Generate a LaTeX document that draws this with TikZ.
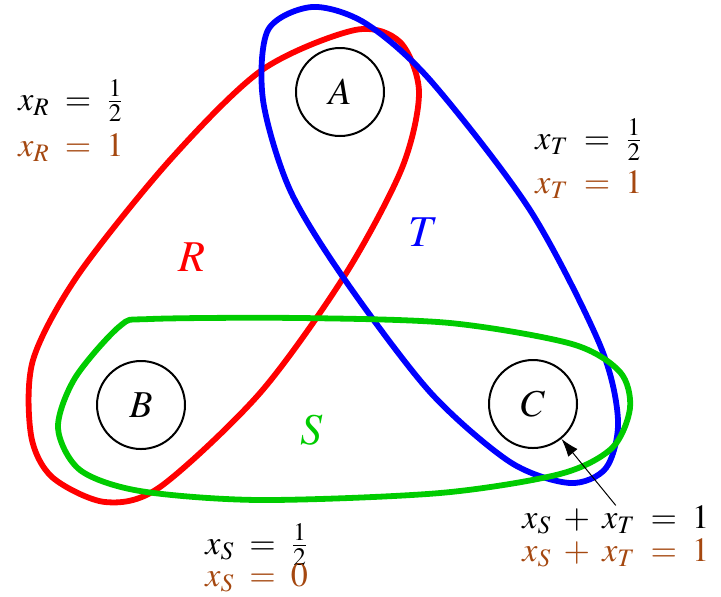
\documentclass[tikz,border=0pt]{standalone}
\usepackage{amsmath}
\usepackage{mathptmx}
\usetikzlibrary{arrows.meta}
\definecolor{lpbrown}{RGB}{165,72,16}
\definecolor{lpgreen}{RGB}{0,204,0}

\begin{document}
\begin{tikzpicture}[
  x=0.5pt, y=-0.5pt,
  every node/.style={font=\fontsize{17}{20}\selectfont},
  vertex/.style={draw, circle, line width=1pt, minimum size=44pt, inner sep=0pt,
    font=\fontsize{19}{22}\selectfont},
  edgeset/.style={line width=2.9pt},
  setname/.style={font=\fontsize{22}{26}\selectfont},
  val/.style={anchor=west, inner sep=0pt},
  arrow/.style={-{Latex[length=9pt,width=6pt]}, line width=0.5pt}
]
\useasboundingbox (0,0) rectangle (721,596);

% the three elements
\node[vertex] (A) at (340,92) {$A$};
\node[vertex] (B) at (141,405) {$B$};
\node[vertex] (C) at (533,404) {$C$};

% set R
\draw[edgeset, red] plot[smooth cycle] coordinates {
  (355,30) (400,42) (419,92) (402,168) (345,275) (260,393) (160,487)
  (105,502) (52,477) (31,435) (33,360) (78,275) (170,160) (262,70)};
% set T
\draw[edgeset, blue] plot[smooth cycle] coordinates {
  (312,7) (365,23) (430,80) (530,210) (600,345) (618,420) (606,468)
  (570,483) (510,462) (430,392) (345,280) (290,190) (263,100) (268,30)};
% set S
\draw[edgeset, lpgreen] plot[smooth cycle] coordinates {
  (150,319) (300,318) (450,323) (572,344) (620,372) (630,408) (612,448)
  (560,474) (440,493) (260,500) (140,491) (80,470) (58,428) (75,378)
  (120,326)};

% set names
\node[setname, red] (R) at (192,257) {$R$};
\node[setname, blue] (T) at (424,232) {$T$};
\node[setname, lpgreen] (S) at (312,430) {$S$};

% fractional and integral values
\node[val] (xR) at (18,101) {$x_R \;=\; \tfrac{1}{2}$};
\node[val, lpbrown] (xRi) at (18,148) {$x_R \;=\; 1$};
\node[val] (xT) at (535,140) {$x_T \;=\; \tfrac{1}{2}$};
\node[val, lpbrown] (xTi) at (535,185) {$x_T \;=\; 1$};
\node[val] (xS) at (205,545) {$x_S \;=\; \tfrac{1}{2}$};
\node[val, lpbrown] (xSi) at (205,578) {$x_S \;=\; 0$};
\node[val] (xST) at (522,520) {$x_S \;+\; x_T \;=\; 1$};
\node[val, lpbrown] (xSTi) at (522,553) {$x_S \;+\; x_T \;=\; 1$};

\draw[arrow] (xST.north) -- (C);
\end{tikzpicture}
\end{document}
